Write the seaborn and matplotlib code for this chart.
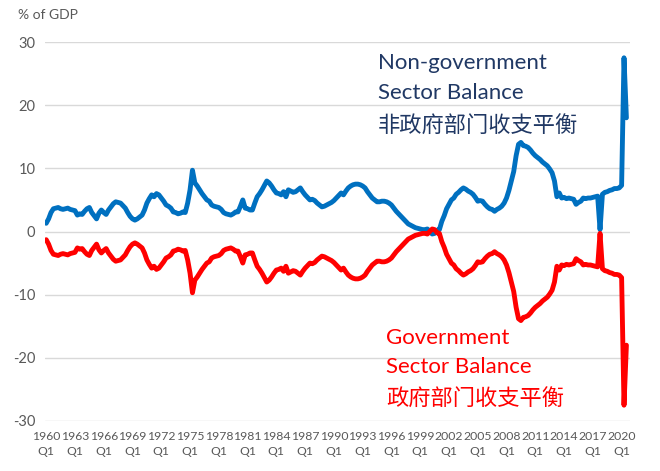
import numpy as np
import pandas as pd
import seaborn as sns
import matplotlib.pyplot as plt

# Quarterly sector balances, % of GDP, 1960 Q1 - 2020 Q3
nongov_balance = [
    1.3, 2.0, 3.0, 3.6,   3.7, 3.8, 3.6, 3.5,   3.6, 3.7, 3.5, 3.4,   3.3, 2.6, 2.8, 2.7,   # 1960-63
    3.2, 3.6, 3.8, 3.0,   2.5, 2.0, 2.9, 3.4,   3.0, 2.7, 3.4, 3.9,   4.4, 4.7, 4.6, 4.5,   # 1964-67
    4.1, 3.7, 3.0, 2.4,   2.0, 1.8, 2.0, 2.3,   2.6, 3.4, 4.5, 5.2,   5.8, 5.5, 6.0, 5.8,   # 1968-71
    5.3, 4.8, 4.2, 4.0,   3.7, 3.1, 3.0, 2.8,   2.9, 3.1, 3.0, 4.5,   6.6, 9.7, 7.7, 7.2,   # 1972-75
    6.6, 6.0, 5.5, 5.0,   4.8, 4.2, 4.0, 3.9,   3.8, 3.5, 3.0, 2.8,   2.7, 2.6, 2.8, 3.1,   # 1976-79
    3.1, 4.0, 5.0, 3.7,   3.6, 3.4, 3.4, 4.5,   5.5, 6.0, 6.6, 7.3,   8.0, 7.7, 7.2, 6.6,   # 1980-83
    6.1, 6.0, 5.8, 6.3,   5.5, 6.6, 6.4, 6.2,   6.3, 6.6, 6.9, 6.3,   5.8, 5.4, 5.0, 5.1,   # 1984-87
    4.9, 4.5, 4.2, 3.9,   4.0, 4.2, 4.4, 4.6,   4.9, 5.3, 5.7, 6.1,   5.8, 6.4, 6.9, 7.2,   # 1988-91
    7.4, 7.5, 7.5, 7.4,   7.2, 6.9, 6.3, 5.8,   5.3, 5.0, 4.7, 4.7,   4.8, 4.8, 4.7, 4.5,   # 1992-95
    4.2, 3.7, 3.2, 2.8,   2.4, 2.0, 1.6, 1.2,   1.0, 0.8, 0.6, 0.5,   0.4, 0.3, 0.3, 0.4,   # 1996-99
    0.0, -0.4, -0.3, 0.2, 0.3, 1.6, 2.5, 3.6,   4.3, 5.0, 5.3, 5.9,   6.2, 6.6, 6.9, 6.7,   # 2000-03
    6.4, 6.2, 5.9, 5.4,   4.8, 4.9, 4.8, 4.3,   3.9, 3.6, 3.5, 3.2,   3.5, 3.7, 4.0, 4.5,   # 2004-07
    5.3, 6.5, 8.0, 9.5,   12.0, 13.8, 14.1, 13.6, 13.5, 13.3, 12.9, 12.4, 12.0, 11.7, 11.4, 11.0,  # 2008-11
    10.7, 10.4, 9.9, 9.3, 8.0, 5.5, 6.1, 5.3,   5.4, 5.2, 5.3, 5.2,   5.1, 4.3, 4.6, 4.8,   # 2012-15
    5.3, 5.2, 5.3, 5.3,   5.4, 5.5, 5.6, 0.3,   5.9, 6.2, 6.3, 6.5,   6.6, 6.8, 6.8, 6.9,   # 2016-19
    7.3, 27.5, 18.0,                                                                        # 2020
]
gov_balance = [
    -1.3, -2.0, -3.0, -3.6,   -3.7, -3.8, -3.6, -3.5,   -3.6, -3.7, -3.5, -3.4,   -3.3, -2.6, -2.8, -2.7,
    -3.2, -3.6, -3.8, -3.0,   -2.5, -2.0, -2.9, -3.4,   -3.0, -2.7, -3.4, -3.9,   -4.4, -4.7, -4.6, -4.5,
    -4.1, -3.7, -3.0, -2.4,   -2.0, -1.8, -2.0, -2.3,   -2.6, -3.4, -4.5, -5.2,   -5.8, -5.5, -6.0, -5.8,
    -5.3, -4.8, -4.2, -4.0,   -3.7, -3.1, -3.0, -2.8,   -2.9, -3.1, -3.0, -4.5,   -6.6, -9.7, -7.7, -7.2,
    -6.6, -6.0, -5.5, -5.0,   -4.8, -4.2, -4.0, -3.9,   -3.8, -3.5, -3.0, -2.8,   -2.7, -2.6, -2.8, -3.1,
    -3.1, -4.0, -5.0, -3.7,   -3.6, -3.4, -3.4, -4.5,   -5.5, -6.0, -6.6, -7.3,   -8.0, -7.7, -7.2, -6.6,
    -6.1, -6.0, -5.8, -6.3,   -5.5, -6.6, -6.4, -6.2,   -6.3, -6.6, -6.9, -6.3,   -5.8, -5.4, -5.0, -5.1,
    -4.9, -4.5, -4.2, -3.9,   -4.0, -4.2, -4.4, -4.6,   -4.9, -5.3, -5.7, -6.1,   -5.8, -6.4, -6.9, -7.2,
    -7.4, -7.5, -7.5, -7.4,   -7.2, -6.9, -6.3, -5.8,   -5.3, -5.0, -4.7, -4.7,   -4.8, -4.8, -4.7, -4.5,
    -4.2, -3.7, -3.2, -2.8,   -2.4, -2.0, -1.6, -1.2,   -1.0, -0.8, -0.6, -0.5,   -0.4, -0.3, -0.3, -0.4,
    0.0, 0.4, 0.3, -0.2,      -0.3, -1.6, -2.5, -3.6,   -4.3, -5.0, -5.3, -5.9,   -6.2, -6.6, -6.9, -6.7,
    -6.4, -6.2, -5.9, -5.4,   -4.8, -4.9, -4.8, -4.3,   -3.9, -3.6, -3.5, -3.2,   -3.5, -3.7, -4.0, -4.5,
    -5.3, -6.5, -8.0, -9.5,   -12.0, -13.8, -14.1, -13.6, -13.5, -13.3, -12.9, -12.4, -12.0, -11.7, -11.4, -11.0,
    -10.7, -10.4, -9.9, -9.3, -8.0, -5.5, -6.1, -5.3,   -5.4, -5.2, -5.3, -5.2,   -5.1, -4.3, -4.6, -4.8,
    -5.3, -5.2, -5.3, -5.3,   -5.4, -5.5, -5.6, -0.3,   -5.9, -6.2, -6.3, -6.5,   -6.6, -6.8, -6.8, -6.9,
    -7.3, -27.5, -18.0,
]
quarters = [f"{y} Q{q}" for y in range(1960, 2021) for q in range(1, 5)][:len(nongov_balance)]
tick_years = list(range(1960, 2021, 3))
y_ticks = [-30, -20, -10, 0, 10, 20, 30]

df = pd.DataFrame({
    "idx": np.arange(len(quarters)),
    "nongov": nongov_balance,
    "gov": gov_balance,
})

sns.set_style("white")
plt.rcParams["font.family"] = ["Lato", "DejaVu Sans"]

fig = plt.figure(figsize=(6.6, 4.71), dpi=100)
ax = fig.add_axes([45 / 660, 1 - 421 / 471, 585 / 660, 379 / 471])

blue = "#0070C0"
red = "#FF0000"
sns.lineplot(data=df, x="idx", y="nongov", color=blue, linewidth=3.5, ax=ax)
sns.lineplot(data=df, x="idx", y="gov", color=red, linewidth=3.5, ax=ax)

ax.set_xlim(-0.5, 243.5)
ax.set_ylim(-30, 30)
ax.set_yticks(y_ticks)
ax.set_yticklabels([str(v) for v in y_ticks], fontsize=10.5, color="#595959")
ax.set_xticks([quarters.index(f"{y} Q1") for y in tick_years])
ax.set_xticklabels([f"{y}\nQ1" for y in tick_years], fontsize=8.8, color="#595959",
                   linespacing=1.45, multialignment="center")
ax.tick_params(length=0, pad=7)
ax.set_xlabel("")
ax.set_ylabel("")
ax.grid(axis="y", color="#D9D9D9", linewidth=1)
ax.set_axisbelow(True)
for s in ax.spines.values():
    s.set_visible(False)

fig.text(18 / 660, 1 - 15 / 471, "% of GDP", fontsize=10, color="#595959", va="center")

navy = "#203864"
ax.text(138.3, 26.6, "Non-government", fontsize=16, color=navy, va="center")
ax.text(138.3, 22.0, "Sector Balance", fontsize=16, color=navy, va="center")
ax.text(138.3, 16.6, "非政府部门收支平衡", fontsize=16, color=navy, va="center",
        family=["Noto Sans CJK SC", "DejaVu Sans"])
ax.text(141.7, -16.8, "Government", fontsize=16, color=red, va="center")
ax.text(141.7, -21.4, "Sector Balance", fontsize=16, color=red, va="center")
ax.text(141.7, -26.6, "政府部门收支平衡", fontsize=16, color=red, va="center",
        family=["Noto Sans CJK SC", "DejaVu Sans"])

fig.savefig("out.png", dpi=100)
